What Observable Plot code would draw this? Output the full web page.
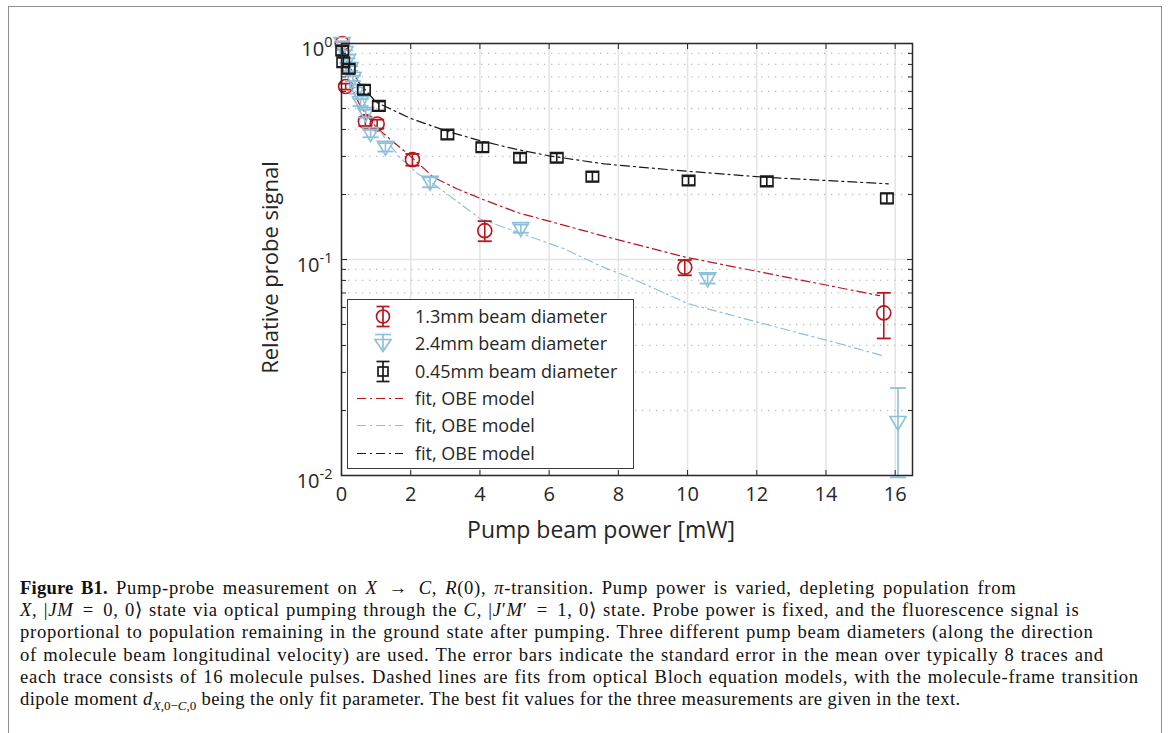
<!DOCTYPE html>
<html>
<head>
<meta charset="utf-8">
<script src="https://cdn.jsdelivr.net/npm/d3@7"></script>
<script src="https://cdn.jsdelivr.net/npm/@observablehq/plot@0.6"></script>
<style>
  body { margin: 0; background: #fff; }
  #page { position: relative; width: 1171px; height: 733px; overflow: hidden; background: #fff; }
  #frame { position: absolute; left: 8px; top: 6px; width: 1152px; height: 800px; border: 1.6px solid #8e8e8e; }
  #chart { position: absolute; left: 0; top: 0; }
  #legend { position: absolute; left: 347px; top: 299px; width: 285px; height: 168px;
            border: 1.3px solid #3a3a3a; background: #fff;
            font-family: "Open Sans"; font-size: 18px; color: #262626; }
  .row { position: absolute; left: 0; height: 27px; width: 100%; }
  .row svg { position: absolute; left: 0; top: 0; overflow: visible; }
  .row span { position: absolute; left: 67px; top: 0; line-height: 27px; white-space: nowrap; }
  #caption { position: absolute; left: 20px; top: 577px; font-family: "Liberation Serif";
             font-size: 18.6px; letter-spacing: 0.7px; word-spacing: 1px; color: #111; }
  #caption div { height: 22.2px; line-height: 22.2px; white-space: nowrap; }
  #caption b { letter-spacing: 0.2px; }
  #caption sub { font-size: 70%; line-height: 0; letter-spacing: 0; }
  .op { padding: 0 3px; }
  .l1 { word-spacing: 2.6px; }
  .l6 { letter-spacing: 0.45px; word-spacing: 0; }
</style>
</head>
<body>
<div id="page">
  <div id="frame"></div>
  <div id="chart"></div>
  <div id="legend"></div>
  <div id="caption">
    <div class="l1"><b>Figure B1.</b> Pump-probe measurement on <i>X</i> <span class="op">→</span> <i>C</i>, <i>R</i>(0), <i>π</i>-transition. Pump power is varied, depleting population from</div>
    <div><i>X</i>, |<i>JM</i> <span class="op">=</span> 0, 0⟩ state via optical pumping through the <i>C</i>, |<i>J</i>′<i>M</i>′ <span class="op">=</span> 1, 0⟩ state. Probe power is fixed, and the fluorescence signal is</div>
    <div>proportional to population remaining in the ground state after pumping. Three different pump beam diameters (along the direction</div>
    <div>of molecule beam longitudinal velocity) are used. The error bars indicate the standard error in the mean over typically 8 traces and</div>
    <div>each trace consists of 16 molecule pulses. Dashed lines are fits from optical Bloch equation models, with the molecule-frame transition</div>
    <div class="l6">dipole moment <i>d</i><sub><i>X</i>,0−<i>C</i>,0</sub> being the only fit parameter. The best fit values for the three measurements are given in the text.</div>
  </div>
</div>
<script>
// ---- Measurements: 1.3 mm pump beam diameter ----
const redX   = [0.02, 0.12, 0.69, 1.03, 2.05, 4.14, 9.92, 15.67];
const redY   = [1.0, 0.632, 0.435, 0.424, 0.29, 0.136, 0.092, 0.0566];
const redErr = [0.02, 0.02, 0.02, 0.02, 0.018, 0.0145, 0.0075, 0.0135];

// ---- Measurements: 2.4 mm pump beam diameter ----
const blueX   = [0.02, 0.1, 0.17, 0.25, 0.33, 0.45, 0.55, 0.7, 0.84, 1.27, 2.56, 5.18, 10.58, 16.08];
const blueY   = [1.0, 0.909, 0.834, 0.766, 0.689, 0.606, 0.533, 0.474, 0.383, 0.331, 0.228, 0.139, 0.0814, 0.0176];
const blueErr = [0.02, 0.02, 0.02, 0.02, 0.02, 0.02, 0.02, 0.02, 0.015, 0.015, 0.012, 0.006, 0.004, 0.0078];

// ---- Measurements: 0.45 mm pump beam diameter ----
const blackX   = [0.02, 0.05, 0.21, 0.65, 1.08, 3.06, 4.07, 5.16, 6.22, 7.25, 10.03, 12.29, 15.76];
const blackY   = [0.928, 0.819, 0.764, 0.611, 0.514, 0.379, 0.331, 0.296, 0.296, 0.242, 0.232, 0.230, 0.192];
const blackErr = [0.045, 0.04, 0.037, 0.03, 0.025, 0.018, 0.016, 0.014, 0.014, 0.012, 0.011, 0.011, 0.01];

// ---- OBE model fits ----
const fitRedX = [0, 0.1, 0.25, 0.5, 0.75, 1.0, 1.5, 2.0, 2.66, 3.35, 4.04, 5.08, 7.6, 10, 12.5, 15.55];
const fitRedY = [1.0, 0.80, 0.66, 0.53, 0.46, 0.41, 0.35, 0.30, 0.24, 0.212, 0.191, 0.165, 0.128, 0.102, 0.085, 0.068];
const fitBlueX = [0, 0.1, 0.25, 0.5, 0.8, 1.0, 1.3, 1.7, 2.2, 2.86, 4.02, 5.08, 6.44, 7.5, 8.37, 10.02, 12.0, 14.24, 15.6];
const fitBlueY = [1.0, 0.87, 0.75, 0.6, 0.48, 0.42, 0.355, 0.295, 0.25, 0.212, 0.154, 0.134, 0.112, 0.093, 0.082, 0.0624, 0.0514, 0.0414, 0.036];
const fitBlackX = [0, 0.1, 0.25, 0.5, 1.0, 2.0, 3.0, 4.0, 5.0, 6.0, 7.6, 10, 12.3, 15.8];
const fitBlackY = [1.0, 0.86, 0.77, 0.66, 0.535, 0.45, 0.395, 0.355, 0.325, 0.302, 0.277, 0.256, 0.24, 0.224];

// ---- Axis ticks ----
const xTicks = [0, 2, 4, 6, 8, 10, 12, 14, 16];
const yMajor = [0.01, 0.1, 1];
const yMinor = [0.02, 0.03, 0.04, 0.05, 0.06, 0.07, 0.08, 0.09,
                0.2, 0.3, 0.4, 0.5, 0.6, 0.7, 0.8, 0.9];

// ---- Labels ----
const xLabel = "Pump beam power [mW]";
const yLabel = "Relative probe signal";
const legendLabels = ["1.3mm beam diameter", "2.4mm beam diameter", "0.45mm beam diameter",
                      "fit, OBE model", "fit, OBE model", "fit, OBE model"];

const RED = "#b8161e", BLUE = "#8cc0da", BLACK = "#1a1a1a";
const DASHDOT = "9,4,2,4";

const rows = (xs, ys, es) => xs.map((x, i) => ({x, y: ys[i], lo: ys[i] - es[i], hi: ys[i] + es[i]}));
const red = rows(redX, redY, redErr);
const blue = rows(blueX, blueY, blueErr);
const black = rows(blackX, blackY, blackErr);
const fit = (xs, ys) => xs.map((x, i) => ({x, y: ys[i]}));

// custom marker shapes
const rOf = (s) => Math.sqrt(s / Math.PI);
const hbar = {draw(c, s) { const r = rOf(s); c.moveTo(-r, 0); c.lineTo(r, 0); }};
const triDown = {draw(c, s) { const r = rOf(s); c.moveTo(-r * 1.15, -r * 0.85); c.lineTo(r * 1.15, -r * 0.85); c.lineTo(0, r * 1.15); c.closePath(); }};
const square = {draw(c, s) { const r = rOf(s); c.rect(-r, -r * 0.85, 2 * r, 1.7 * r); }};

function series(data, color, symbol, r, capR) {
  return [
    Plot.ruleX(data, {x: "x", y1: "lo", y2: "hi", stroke: color, strokeWidth: 1.6}),
    Plot.dot(data, {x: "x", y: "lo", symbol: hbar, r: capR, stroke: color, strokeWidth: 1.8, fill: "none"}),
    Plot.dot(data, {x: "x", y: "hi", symbol: hbar, r: capR, stroke: color, strokeWidth: 1.8, fill: "none"}),
    Plot.dot(data, {x: "x", y: "y", symbol, r, stroke: color, strokeWidth: 1.6, fill: "none"})
  ];
}

const chart = Plot.plot({
  width: 1171, height: 560,
  marginLeft: 341, marginRight: 259, marginTop: 43, marginBottom: 85,
  style: {fontFamily: "Open Sans", fontSize: "20px", color: "#262626", background: "transparent", overflow: "visible"},
  x: {domain: [0, 16.5]},
  y: {type: "log", domain: [0.01, 1]},
  marks: [
    // grid
    Plot.ruleX(xTicks, {stroke: "#e4e4e4", strokeWidth: 1.5}),
    Plot.ruleY(yMinor, {stroke: "#bdbdbd", strokeWidth: 1.3, strokeDasharray: "1.3,5.7"}),
    Plot.ruleY(yMajor, {stroke: "#e4e4e4", strokeWidth: 1.5}),
    // model fits
    Plot.line(fit(fitRedX, fitRedY), {x: "x", y: "y", stroke: RED, strokeWidth: 1.2, strokeDasharray: DASHDOT}),
    Plot.line(fit(fitBlueX, fitBlueY), {x: "x", y: "y", stroke: BLUE, strokeWidth: 1.2, strokeDasharray: DASHDOT}),
    Plot.line(fit(fitBlackX, fitBlackY), {x: "x", y: "y", stroke: BLACK, strokeWidth: 1.2, strokeDasharray: DASHDOT}),
    // measurements
    ...series(red, RED, "circle", 7, 7),
    ...series(blue, BLUE, triDown, 7, 8),
    ...series(black, BLACK, square, 6.2, 6.2),
    // box and inward ticks
    Plot.frame({stroke: "#2b2b2b", strokeWidth: 1.5}),
    Plot.axisX(xTicks, {anchor: "bottom", tickSize: -5, tickPadding: 16, label: null, fontSize: 20}),
    Plot.axisX(xTicks, {anchor: "top", tickSize: -5, tickFormat: () => "", label: null}),
    Plot.axisY(yMajor, {anchor: "left", tickSize: -6, tickPadding: 15, label: null, fontSize: 20,
                        tickFormat: d => "10^" + Math.round(Math.log10(d))}),
    Plot.axisY(yMinor, {anchor: "left", tickSize: -5, tickFormat: () => "", label: null}),
    Plot.axisY(yMajor, {anchor: "right", tickSize: -6, tickFormat: () => "", label: null}),
    Plot.axisY(yMinor, {anchor: "right", tickSize: -5, tickFormat: () => "", label: null}),
    // axis titles
    Plot.text([xLabel], {frameAnchor: "bottom", dx: -26, dy: 55, fontSize: 23, fill: "#262626",
                         textAnchor: "middle", lineAnchor: "middle"}),
    Plot.text([yLabel], {frameAnchor: "left", rotate: -90, dx: -71, dy: 8, fontSize: 22, fill: "#262626",
                         textAnchor: "middle", lineAnchor: "middle"})
  ]
});
document.getElementById("chart").appendChild(chart);

// powers of ten with superscript exponents
d3.select(chart).selectAll('[aria-label="y-axis tick label"] text').each(function () {
  const t = this.textContent;
  if (!t.startsWith("10^")) return;
  const e = t.slice(3);
  const s = d3.select(this);
  s.text(null);
  s.append("tspan").attr("dy", "0.3em").text("10");
  s.append("tspan").attr("dy", "-0.62em").attr("font-size", "14.5px").text(e);
});

// legend
const legend = d3.select("#legend");
const kinds = [
  {type: "circle", color: RED}, {type: "tri", color: BLUE}, {type: "square", color: BLACK},
  {type: "line", color: RED}, {type: "line", color: BLUE}, {type: "line", color: BLACK}
];
legendLabels.forEach((label, i) => {
  const row = legend.append("div").attr("class", "row").style("top", (3 + i * 27.3) + "px");
  const svg = row.append("svg").attr("width", 64).attr("height", 27);
  const k = kinds[i], cx = 35, cy = 13.5;
  if (k.type === "line") {
    svg.append("line").attr("x1", 9).attr("x2", 55).attr("y1", cy).attr("y2", cy)
      .attr("stroke", k.color).attr("stroke-width", 1.2).attr("stroke-dasharray", DASHDOT);
  } else {
    const g = svg.append("g").attr("fill", "none").attr("stroke", k.color).attr("stroke-width", 1.7);
    const cap = k.type === "tri" ? 8 : 6.5;
    const top = k.type === "tri" ? -9 : -10, bot = k.type === "tri" ? 6 : 10;
    g.append("line").attr("x1", cx).attr("x2", cx).attr("y1", cy + top).attr("y2", cy + bot);
    g.append("line").attr("x1", cx - cap).attr("x2", cx + cap).attr("y1", cy + top).attr("y2", cy + top);
    if (k.type !== "tri") g.append("line").attr("x1", cx - cap).attr("x2", cx + cap).attr("y1", cy + bot).attr("y2", cy + bot);
    if (k.type === "circle") g.append("circle").attr("cx", cx).attr("cy", cy).attr("r", 6.5);
    if (k.type === "tri") g.append("path").attr("d", `M${cx - 8},${cy - 4}L${cx + 8},${cy - 4}L${cx},${cy + 8}Z`);
    if (k.type === "square") g.append("rect").attr("x", cx - 5).attr("y", cy - 4.5).attr("width", 10).attr("height", 9);
  }
  row.append("span").text(label);
});
</script>
</body>
</html>
